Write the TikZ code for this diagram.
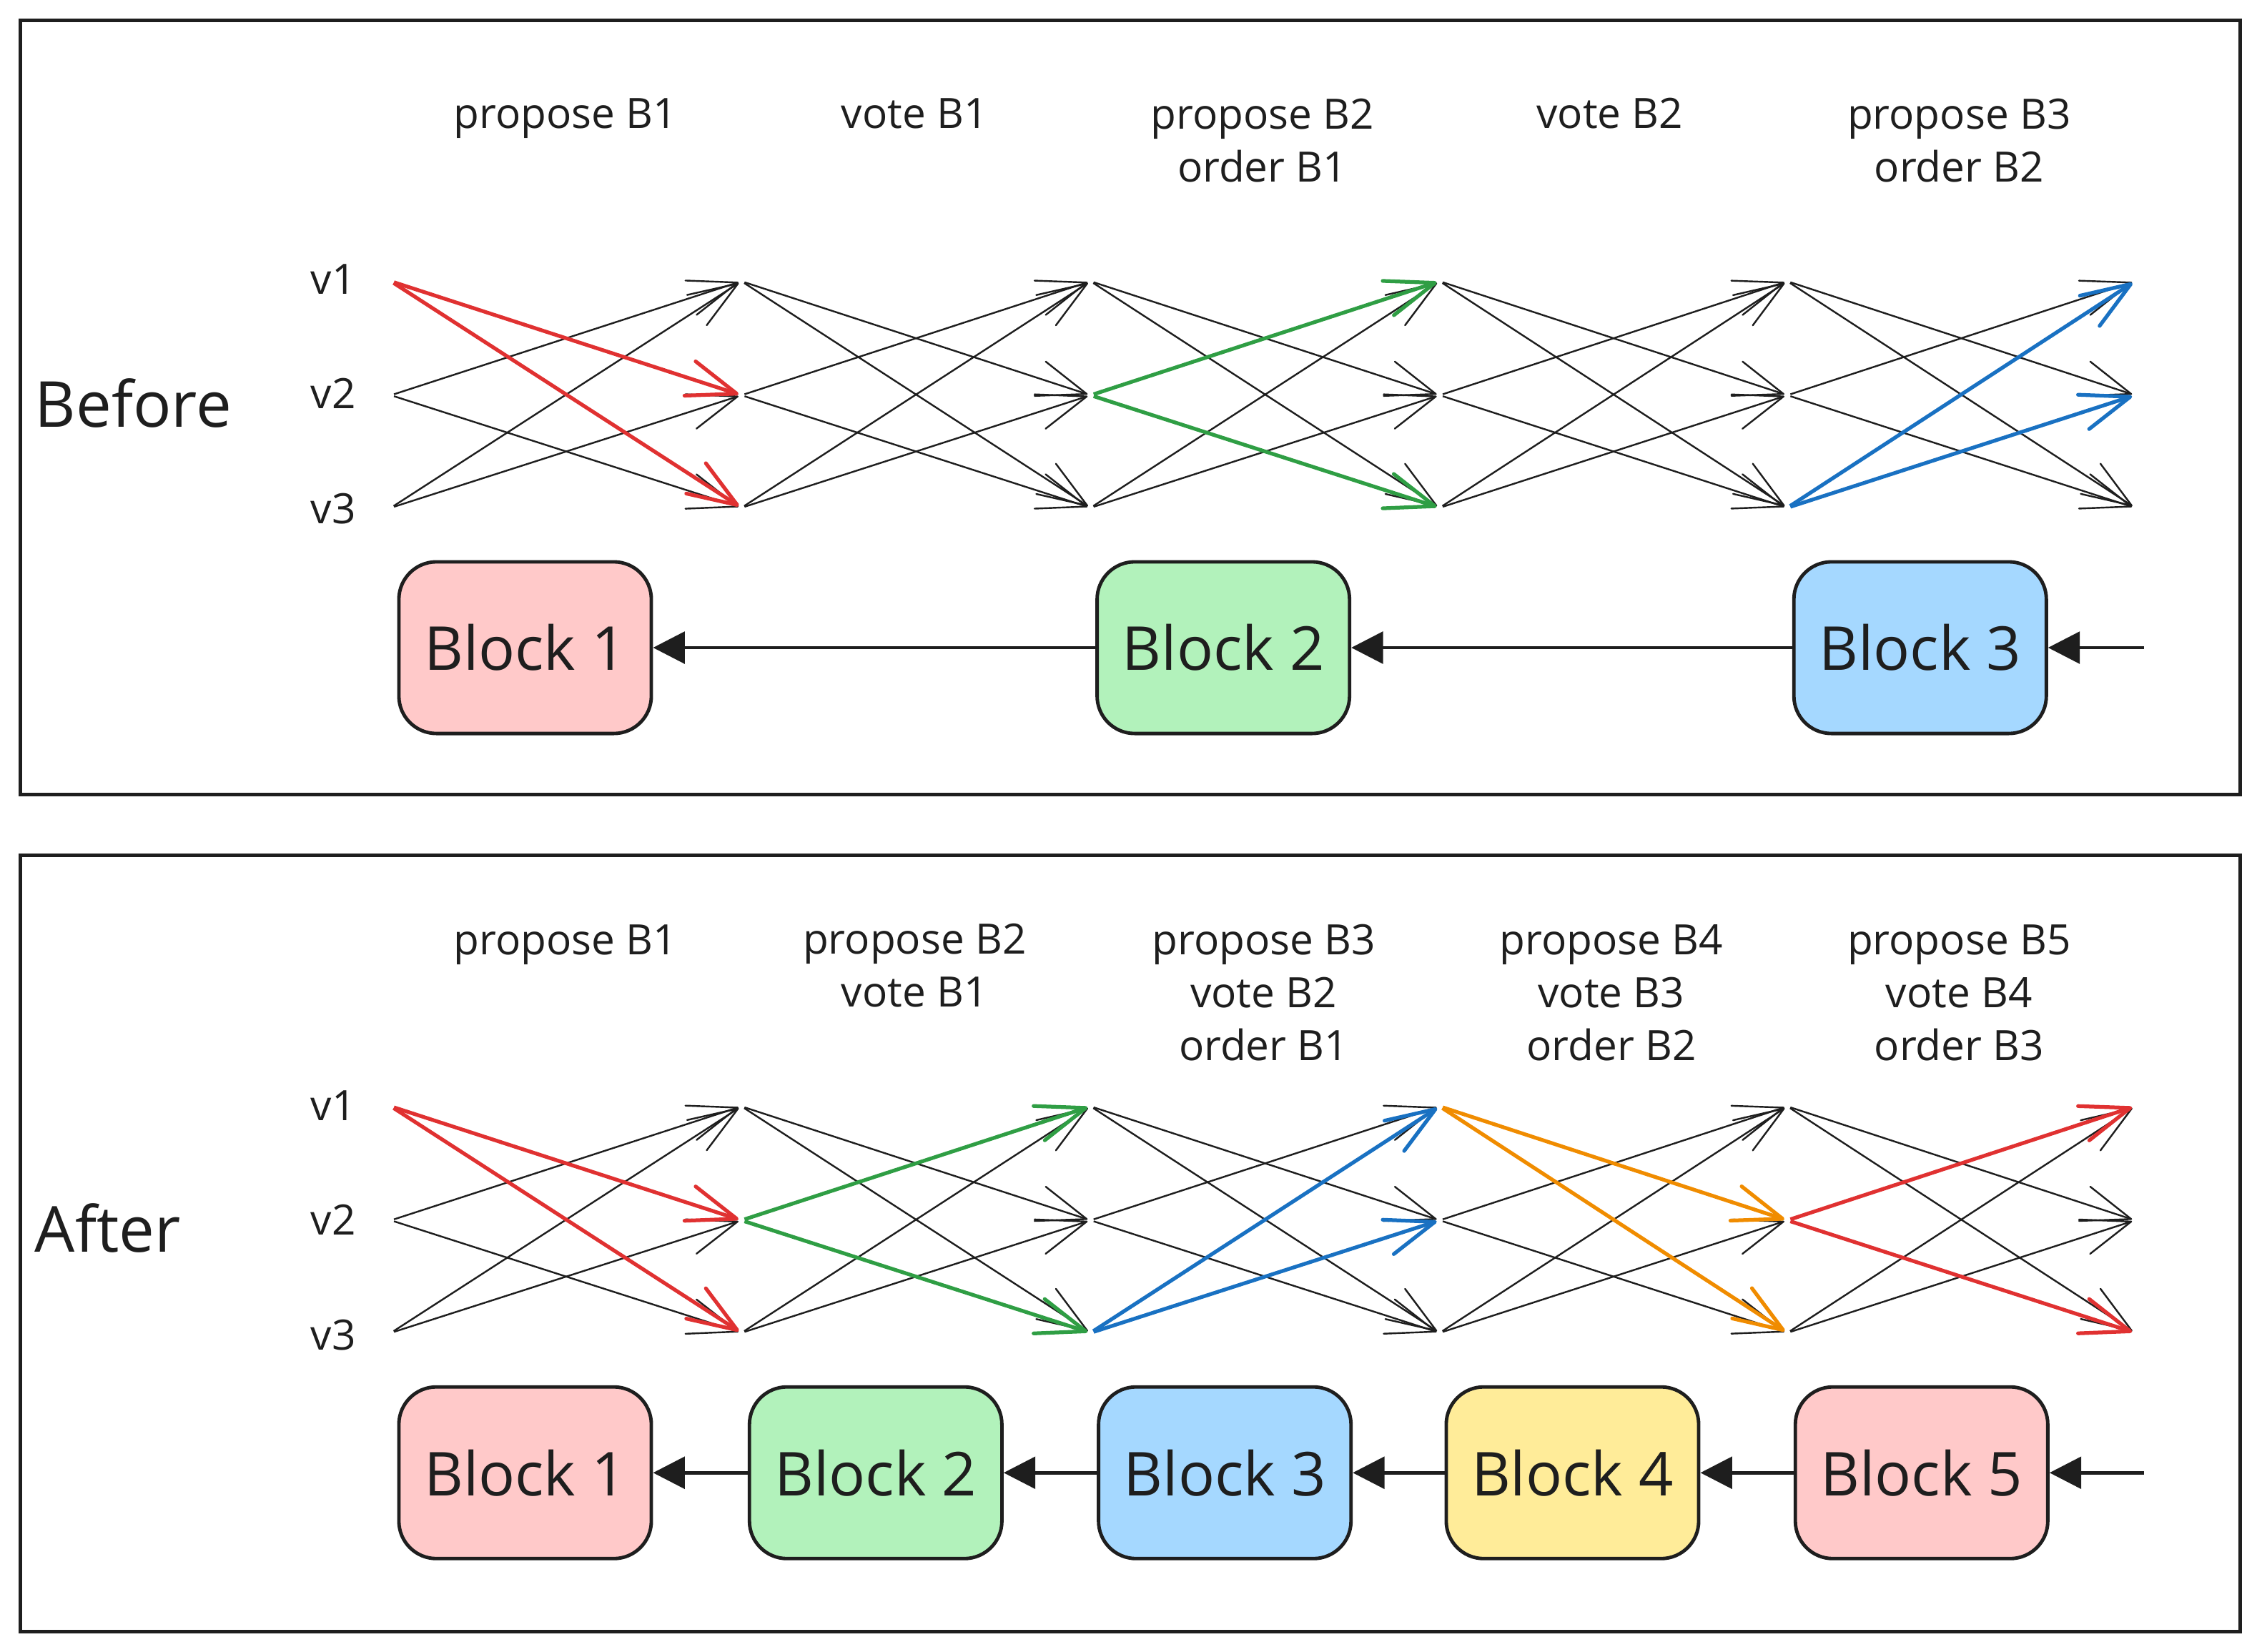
\documentclass[tikz,border=0pt]{standalone}
\usepackage{fontspec}
\setmainfont{Open Sans}
\usetikzlibrary{arrows.meta}
\definecolor{ink}{HTML}{1E1E1E}
\definecolor{cred}{HTML}{E03131}
\definecolor{cgreen}{HTML}{2F9E44}
\definecolor{cblue}{HTML}{1971C2}
\definecolor{corange}{HTML}{F08C00}
\definecolor{fpink}{HTML}{FFC9C9}
\definecolor{fgreen}{HTML}{B2F2BB}
\definecolor{fblue}{HTML}{A5D8FF}
\definecolor{fyellow}{HTML}{FFEC99}
\begin{document}
\begin{tikzpicture}[x=1pt,y=-1pt,
  dot/.style={circle,inner sep=0pt,minimum size=4pt},
  msg/.style={draw=ink,line width=1.2pt,-{Straight Barb[length=34pt,width=25pt,round]}},
  hot/.style={draw=#1,line width=2.6pt,-{Straight Barb[length=34pt,width=25pt,round]}},
  block/.style={draw=ink,fill=#1,line width=2.4pt,rounded corners=26pt,minimum width=175pt,minimum height=119pt,inner sep=0pt,text=ink,font=\fontsize{42}{50}\selectfont},
  link/.style={draw=ink,line width=2.4pt,-{Triangle[length=22pt,width=22pt]}},
  phase/.style={anchor=base,align=center,inner sep=0pt,text=ink,font=\fontsize{29}{36.5}\selectfont},
  vlab/.style={anchor=base,inner sep=0pt,text=ink,font=\fontsize{29}{36}\selectfont},
  side/.style={anchor=base west,inner sep=0pt,text=ink,font=\fontsize{44}{50}\selectfont},
  frame/.style={draw=ink,line width=2.5pt}
]
\useasboundingbox (0,0) rectangle (1568,1145);
\draw[frame] (14,14) rectangle (1553,551);
\draw[frame] (14,593) rectangle (1553,1131);

% grid points
\foreach \c/\x in {0/271,1/514,2/756,3/998,4/1239,5/1480}{
  \foreach \rr/\y in {1/195,2/274,3/352}{
    \node[dot] (a\c\rr) at (\x,\y) {};
    \node[dot] (b\c\rr) at (\x,\y+572) {};
  }
}

% side labels
\node[side] (before) at (24,296) {Before};
\node[side] (after) at (24,868) {After};
\node[vlab] (va1) at (231,204) {v1};
\node[vlab] (va2) at (231,283) {v2};
\node[vlab] (va3) at (231,363) {v3};
\node[vlab] (vb1) at (231,777) {v1};
\node[vlab] (vb2) at (231,856) {v2};
\node[vlab] (vb3) at (231,936) {v3};

% phase labels (anchored at the baseline of their last line)
\node[phase] (ta1) at (392,89) {propose B1};
\node[phase] (ta2) at (634,89) {vote B1};
\node[phase] (ta3) at (875,126) {propose B2\\order B1};
\node[phase] (ta4) at (1116,89) {vote B2};
\node[phase] (ta5) at (1358,126) {propose B3\\order B2};
\node[phase] (tb1) at (392,662) {propose B1};
\node[phase] (tb2) at (634,698) {propose B2\\vote B1};
\node[phase] (tb3) at (876,735) {propose B3\\vote B2\\order B1};
\node[phase] (tb4) at (1117,735) {propose B4\\vote B3\\order B2};
\node[phase] (tb5) at (1358,735) {propose B5\\vote B4\\order B3};

% black message arrows
\foreach \g/\n/\ca/\cb in {0/1/1/1,1/2/0/2,2/3/2/3,3/4/0/1,4/5/3/2}{
  \foreach \sr in {1,2,3}{
    \foreach \tr in {1,2,3}{
      \ifnum\sr=\tr\relax\else
        \ifnum\sr=\ca\relax\else\draw[msg] (a\g\sr) -- (a\n\tr);\fi
        \ifnum\sr=\cb\relax\else\draw[msg] (b\g\sr) -- (b\n\tr);\fi
      \fi
    }
  }
}

% coloured arrows (top)
\draw[hot=cred] (a01) -- (a12);
\draw[hot=cred] (a01) -- (a13);
\draw[hot=cgreen] (a22) -- (a31);
\draw[hot=cgreen] (a22) -- (a33);
\draw[hot=cblue] (a43) -- (a51);
\draw[hot=cblue] (a43) -- (a52);
% coloured arrows (bottom)
\draw[hot=cred] (b01) -- (b12);
\draw[hot=cred] (b01) -- (b13);
\draw[hot=cgreen] (b12) -- (b21);
\draw[hot=cgreen] (b12) -- (b23);
\draw[hot=cblue] (b23) -- (b31);
\draw[hot=cblue] (b23) -- (b32);
\draw[hot=corange] (b31) -- (b42);
\draw[hot=corange] (b31) -- (b43);
\draw[hot=cred] (b42) -- (b51);
\draw[hot=cred] (b42) -- (b53);

% blocks (top)
\node[block=fpink] (kt1) at (364,449) {Block 1};
\node[block=fgreen] (kt2) at (848,449) {Block 2};
\node[block=fblue] (kt3) at (1331,449) {Block 3};
\coordinate (tin) at (1486,449);
\draw[link] (tin) -- (kt3);
\draw[link] (kt3) -- (kt2);
\draw[link] (kt2) -- (kt1);

% blocks (bottom)
\node[block=fpink] (kb1) at (364,1021) {Block 1};
\node[block=fgreen] (kb2) at (607,1021) {Block 2};
\node[block=fblue] (kb3) at (849,1021) {Block 3};
\node[block=fyellow] (kb4) at (1090,1021) {Block 4};
\node[block=fpink] (kb5) at (1332,1021) {Block 5};
\coordinate (bin) at (1486,1021);
\draw[link] (bin) -- (kb5);
\draw[link] (kb5) -- (kb4);
\draw[link] (kb4) -- (kb3);
\draw[link] (kb3) -- (kb2);
\draw[link] (kb2) -- (kb1);
\end{tikzpicture}
\end{document}
